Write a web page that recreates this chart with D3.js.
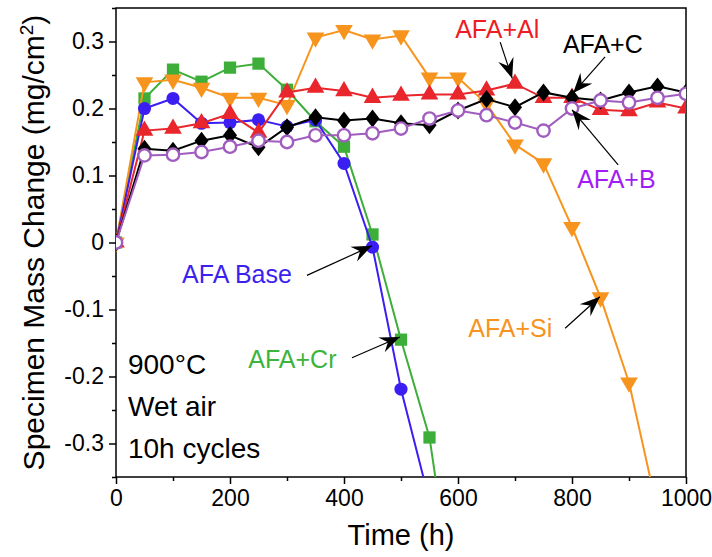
<!DOCTYPE html>
<html>
<head>
<meta charset="utf-8">
<script src="https://cdn.jsdelivr.net/npm/d3@7"></script>
<style>
  body { margin: 0; background: #fff; }
  text { font-family: "Liberation Sans", Arial, Helvetica, sans-serif; }
</style>
</head>
<body>
<script>
// time axis (h) and measured mass change (mg/cm2) per alloy
var times = [0, 50, 100, 150, 200, 250, 300, 350, 400, 450, 500,
             550, 600, 650, 700, 750, 800, 850, 900, 950, 1000];

var afaBase = [0, 0.200, 0.215, 0.178, 0.179, 0.183, 0.173, 0.183, 0.118, -0.007, -0.219, -0.386];
var afaCr   = [0, 0.215, 0.258, 0.240, 0.261, 0.267, 0.228, 0.181, 0.143, 0.012, -0.145, -0.291, -0.58];
var afaSi   = [0, 0.239, 0.243, 0.231, 0.216, 0.216, 0.205, 0.306, 0.317, 0.303, 0.309,
               0.246, 0.246, 0.207, 0.146, 0.118, 0.023, -0.082, -0.209, -0.40];
var afaAl   = [0, 0.167, 0.170, 0.178, 0.192, 0.164, 0.224, 0.231, 0.226, 0.216, 0.219,
               0.221, 0.221, 0.227, 0.237, 0.216, 0.216, 0.198, 0.196, 0.209, 0.200];
var afaC    = [0, 0.140, 0.137, 0.152, 0.160, 0.142, 0.172, 0.187, 0.182, 0.185, 0.178,
               0.175, 0.197, 0.214, 0.202, 0.224, 0.216, 0.212, 0.224, 0.233, 0.224];
var afaB    = [0, 0.130, 0.131, 0.135, 0.143, 0.152, 0.150, 0.160, 0.160, 0.163, 0.170,
               0.185, 0.197, 0.190, 0.179, 0.167, 0.200, 0.212, 0.209, 0.216, 0.222];

var xTicks = [0, 200, 400, 600, 800, 1000];
var xMinor = [100, 300, 500, 700, 900];
var yTicks = [-0.3, -0.2, -0.1, 0, 0.1, 0.2, 0.3];
var yMinor = [-0.35, -0.25, -0.15, -0.05, 0.05, 0.15, 0.25, 0.35];

// drawing order: green, orange, blue, red, black, purple
var series = [
  {name: "AFA+Cr",   values: afaCr,   color: "#3dae3a", symbol: "square"},
  {name: "AFA+Si",   values: afaSi,   color: "#f7941d", symbol: "down"},
  {name: "AFA Base", values: afaBase, color: "#3b1ef2", symbol: "circle"},
  {name: "AFA+Al",   values: afaAl,   color: "#e8262b", symbol: "up"},
  {name: "AFA+C",    values: afaC,    color: "#000000", symbol: "diamond"},
  {name: "AFA+B",    values: afaB,    color: "#a15cbf", symbol: "open"}
];

// labels: text anchor (t, v) and arrow from -> to in data units
var labels = [
  {text: "AFA+Al",   color: "#f01c24", at: [595, 0.305],  from: [674, 0.299],  to: [695, 0.245]},
  {text: "AFA+C",    color: "#000000", at: [784, 0.283],  from: [858, 0.277],  to: [802, 0.223]},
  {text: "AFA+B",    color: "#a11ef2", at: [809, 0.082],  from: [881, 0.116],  to: [800, 0.198]},
  {text: "AFA Base", color: "#3d1ff0", at: [116, -0.060], from: [335, -0.049], to: [449, -0.005]},
  {text: "AFA+Cr",   color: "#3cb43c", at: [232, -0.187], from: [414, -0.172], to: [498, -0.141]},
  {text: "AFA+Si",   color: "#f7931e", at: [618, -0.141], from: [788, -0.128], to: [849, -0.081]}
];
var conditions = ["900\u00B0C", "Wet air", "10h cycles"];

var W = 712, H = 557;
var plotL = 116, plotR = 686, plotT = 8, plotB = 477;

var svg = d3.select("body").append("svg")
  .attr("width", W).attr("height", H);

var x = d3.scaleLinear().domain([0, 1000]).range([plotL, plotR]);
var y = d3.scaleLinear().domain([-0.35, 0.35]).range([plotB, plotT]);

svg.append("clipPath").attr("id", "plot")
  .append("rect").attr("x", plotL).attr("y", plotT)
  .attr("width", plotR - plotL).attr("height", plotB - plotT);

// axes
svg.append("g").attr("transform", "translate(0," + plotB + ")")
  .call(d3.axisBottom(x).tickValues(xTicks).tickSize(7).tickPadding(6)
        .tickFormat(d3.format("d")));
svg.append("g").attr("transform", "translate(0," + plotB + ")")
  .call(d3.axisBottom(x).tickValues(xMinor).tickSize(4).tickFormat(""));
svg.append("g").attr("transform", "translate(" + plotL + ",0)")
  .call(d3.axisLeft(y).tickValues(yTicks).tickSize(7).tickPadding(5)
        .tickFormat(function(d) { return d === 0 ? "0" : d.toFixed(1); }));
svg.append("g").attr("transform", "translate(" + plotL + ",0)")
  .call(d3.axisLeft(y).tickValues(yMinor).tickSize(4).tickFormat(""));

svg.selectAll(".domain").remove();
svg.selectAll(".tick line").attr("stroke", "#000").attr("stroke-width", 1.5);
svg.selectAll(".tick text").attr("fill", "#000")
  .attr("font-size", 23)
  .attr("font-family", "'Liberation Sans', Arial, sans-serif");

svg.append("rect")
  .attr("x", plotL).attr("y", plotT)
  .attr("width", plotR - plotL).attr("height", plotB - plotT)
  .attr("fill", "none").attr("stroke", "#000").attr("stroke-width", 1.5);

// axis titles
svg.append("text")
  .attr("x", (plotL + plotR) / 2).attr("y", 545)
  .attr("text-anchor", "middle").style("font-size", "29px")
  .text("Time (h)");

var yt = svg.append("text")
  .attr("transform", "translate(44," + ((plotT + plotB) / 2) + ") rotate(-90)")
  .attr("text-anchor", "middle").style("font-size", "30px");
yt.append("tspan").text("Specimen Mass Change (mg/cm");
yt.append("tspan").attr("dy", -11).style("font-size", "19px").text("2");
yt.append("tspan").attr("dy", 11).text(")");

// series
var plot = svg.append("g").attr("clip-path", "url(#plot)");
var line = d3.line()
  .x(function(d) { return x(d[0]); })
  .y(function(d) { return y(d[1]); });

function shape(kind) {
  if (kind === "square") return d3.symbol().type(d3.symbolSquare).size(150)();
  if (kind === "diamond") return "M0,-9L7,0L0,9L-7,0Z";
  if (kind === "up" || kind === "down") return d3.symbol().type(d3.symbolTriangle).size(135)();
  if (kind === "open") return d3.symbol().type(d3.symbolCircle).size(120)();
  return d3.symbol().type(d3.symbolCircle).size(135)();
}

series.forEach(function(s) {
  var pts = s.values.map(function(v, i) { return [times[i], v]; });
  var g = plot.append("g");
  g.append("path")
    .attr("d", line(pts))
    .attr("fill", "none").attr("stroke", s.color).attr("stroke-width", 2);
  g.selectAll("path.m").data(pts).enter().append("path")
    .attr("class", "m")
    .attr("d", shape(s.symbol))
    .attr("transform", function(d) {
      return "translate(" + x(d[0]) + "," + y(d[1]) + ")" +
        (s.symbol === "down" ? " rotate(180)" : "");
    })
    .attr("fill", s.symbol === "open" ? "#fff" : s.color)
    .attr("stroke", s.symbol === "open" ? s.color : "none")
    .attr("stroke-width", 2.4);
});

// annotations
labels.forEach(function(a) {
  svg.append("text")
    .attr("x", x(a.at[0])).attr("y", y(a.at[1]))
    .attr("fill", a.color).style("font-size", "25px")
    .text(a.text);

  var x0 = x(a.from[0]), y0 = y(a.from[1]);
  var x1 = x(a.to[0]), y1 = y(a.to[1]);
  var ang = Math.atan2(y1 - y0, x1 - x0) * 180 / Math.PI;
  svg.append("line")
    .attr("x1", x0).attr("y1", y0).attr("x2", x1).attr("y2", y1)
    .attr("stroke", "#000").attr("stroke-width", 1.2);
  svg.append("path")
    .attr("d", "M0,0L-20,-8L-13,0L-20,8Z")
    .attr("transform", "translate(" + x1 + "," + y1 + ") rotate(" + ang + ")")
    .attr("fill", "#000");
});

svg.selectAll("text.cond").data(conditions).enter().append("text")
  .attr("class", "cond")
  .attr("x", x(21))
  .attr("y", function(d, i) { return y(-0.196 - i * 0.063); })
  .style("font-size", "28px")
  .text(function(d) { return d; });
</script>
</body>
</html>
